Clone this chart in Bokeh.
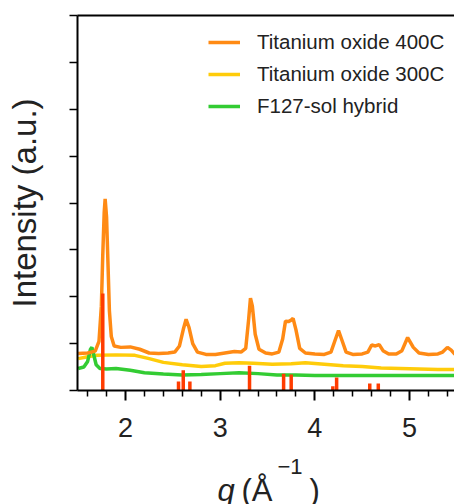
from bokeh.plotting import figure
from bokeh.layouts import column
from bokeh.models import (LinearAxis, FixedTicker, Legend, LegendItem,
                          Range1d, ColumnDataSource, CustomJSTickFormatter)
from bokeh.core.properties import value
from bokeh.embed import file_html
from bokeh.resources import INLINE

# ---------------- data ----------------
q_400 = [1.50, 1.60, 1.68, 1.72, 1.745, 1.76, 1.775, 1.785, 1.80, 1.815, 1.83, 1.85,
         1.88, 1.95, 2.05, 2.15, 2.25, 2.35, 2.45, 2.52, 2.57, 2.61, 2.64, 2.67,
         2.71, 2.76, 2.85, 2.95, 3.05, 3.15, 3.22, 3.27, 3.30, 3.32, 3.34, 3.37,
         3.41, 3.48, 3.55, 3.62, 3.66, 3.69, 3.72, 3.75, 3.77, 3.80, 3.84, 3.90,
         4.00, 4.10, 4.17, 4.21, 4.25, 4.29, 4.33, 4.40, 4.50, 4.56, 4.60, 4.64,
         4.68, 4.72, 4.78, 4.86, 4.92, 4.98, 5.04, 5.10, 5.20, 5.30, 5.35, 5.40,
         5.44, 5.48]
i_400 = [0.79, 0.80, 0.84, 1.05, 1.80, 2.90, 3.80, 4.09, 3.70, 2.70, 1.70, 1.15,
         0.95, 0.92, 0.93, 0.88, 0.80, 0.79, 0.80, 0.82, 0.95, 1.30, 1.52, 1.35,
         1.00, 0.82, 0.77, 0.77, 0.80, 0.83, 0.82, 0.90, 1.50, 1.97, 1.80, 1.20,
         0.88, 0.80, 0.78, 0.82, 1.10, 1.48, 1.47, 1.50, 1.54, 1.30, 0.90, 0.80,
         0.78, 0.77, 0.82, 1.05, 1.28, 1.05, 0.82, 0.77, 0.78, 0.82, 0.97, 0.95,
         0.98, 0.85, 0.78, 0.78, 0.85, 1.13, 0.92, 0.80, 0.77, 0.78, 0.82, 0.92,
         0.86, 0.77]

q_300 = [1.50, 1.60, 1.70, 1.90, 2.10, 2.25, 2.40, 2.60, 2.80, 2.95, 3.05, 3.20,
         3.35, 3.55, 3.75, 3.90, 4.10, 4.30, 4.50, 4.70, 4.90, 5.10, 5.30, 5.48]
i_300 = [0.68, 0.72, 0.75, 0.76, 0.75, 0.68, 0.60, 0.55, 0.51, 0.53, 0.58, 0.59,
         0.58, 0.56, 0.57, 0.59, 0.56, 0.53, 0.51, 0.48, 0.47, 0.46, 0.45, 0.45]

q_f127 = [1.50, 1.56, 1.60, 1.63, 1.645, 1.66, 1.69, 1.73, 1.80, 1.90, 2.05, 2.20,
          2.40, 2.60, 2.80, 3.00, 3.20, 3.40, 3.60, 3.80, 4.00, 4.50, 5.00, 5.48]
i_f127 = [0.47, 0.50, 0.62, 0.88, 0.92, 0.80, 0.55, 0.47, 0.46, 0.47, 0.43, 0.38,
          0.35, 0.33, 0.34, 0.36, 0.38, 0.36, 0.33, 0.33, 0.32, 0.32, 0.32, 0.32]

ref_q = [1.76, 2.56, 2.61, 2.68, 3.31, 3.67, 3.75, 4.19, 4.23, 4.58, 4.67]
ref_h = [2.07, 0.19, 0.43, 0.19, 0.53, 0.36, 0.34, 0.09, 0.28, 0.15, 0.15]

series_names = ["Titanium oxide 400C", "Titanium oxide 300C", "F127-sol hybrid"]
x_ticks = [2, 3, 4, 5]
x_minor = [1.6, 1.8, 2.2, 2.4, 2.6, 2.8, 3.2, 3.4, 3.6, 3.8, 4.2, 4.4, 4.6, 4.8, 5.2, 5.4]
y_ticks = [0, 1, 2, 3, 4, 5, 6, 7, 8]
y_title = "Intensity (a.u.)"
x_title_parts = ["q", "(Å", "−1", ")"]

# ---------------- main figure ----------------
FONT = "Liberation Sans"
TXT = "#222222"
H_MAIN = 458
LEFT = 77

p = figure(width=454, height=H_MAIN, output_backend="svg", toolbar_location=None,
           x_range=Range1d(1.493, 5.475), y_range=Range1d(0, 8),
           min_border_left=LEFT, min_border_right=0, min_border_top=15,
           min_border_bottom=H_MAIN - 390)
p.outline_line_color = None
p.grid.visible = False
p.border_fill_color = "white"

xa = p.xaxis[0]
xa.ticker = FixedTicker(ticks=x_ticks, minor_ticks=x_minor)
xa.axis_line_width = 2
xa.axis_line_color = "black"
xa.major_tick_line_width = 2
xa.minor_tick_line_width = 1.5
xa.major_tick_out = 10
xa.major_tick_in = 0
xa.minor_tick_out = 6
xa.minor_tick_in = 0
xa.major_label_text_font = FONT
xa.major_label_text_font_size = "27px"
xa.major_label_text_color = TXT
xa.major_label_standoff = 17

ya = p.yaxis[0]
ya.ticker = FixedTicker(ticks=y_ticks, minor_ticks=[])
ya.axis_line_width = 2
ya.axis_line_color = "black"
ya.major_tick_line_width = 1.5
ya.major_tick_out = 8
ya.major_tick_in = 0
ya.minor_tick_out = 0
ya.minor_tick_in = 0
ya.formatter = CustomJSTickFormatter(code="return ''")
ya.major_label_standoff = 0
ya.axis_label = y_title
ya.axis_label_text_font = FONT
ya.axis_label_text_font_size = "33px"
ya.axis_label_text_font_style = "normal"
ya.axis_label_text_color = TXT
ya.axis_label_standoff = 27

top = LinearAxis(ticker=FixedTicker(ticks=[], minor_ticks=[]),
                 axis_line_width=2, axis_line_color="black",
                 major_tick_out=0, major_tick_in=0, minor_tick_out=0, minor_tick_in=0)
p.add_layout(top, "above")

# curves
r300 = p.line(q_300, i_300, line_color="#ffcc0a", line_width=3.5)
rf = p.line(q_f127, i_f127, line_color="#33cc33", line_width=3.5)
r400 = p.line(q_400, i_400, line_color="#ff8a14", line_width=3.5)

ref = ColumnDataSource(dict(q=ref_q, h=ref_h, z=[0] * len(ref_q)))
p.segment(x0="q", y0="z", x1="q", y1="h", source=ref, line_color="#ff3c00",
          line_width=3.5, line_cap="butt")

legend = Legend(items=[LegendItem(label=series_names[0], renderers=[r400]),
                       LegendItem(label=series_names[1], renderers=[r300]),
                       LegendItem(label=series_names[2], renderers=[rf])],
                location=(131, 268), padding=0, spacing=0, margin=0,
                glyph_width=32, glyph_height=32, label_height=32,
                label_standoff=17, border_line_color=None,
                background_fill_alpha=0,
                label_text_font=FONT, label_text_font_size="20.5px",
                label_text_color=TXT)
p.add_layout(legend, "center")

# ---------------- x-axis title strip (page pixel coordinates) ----------------
b = figure(width=454, height=504 - H_MAIN, output_backend="svg", toolbar_location=None,
           x_range=Range1d(LEFT, 454), y_range=Range1d(504, H_MAIN),
           min_border_left=LEFT, min_border_right=0,
           min_border_top=0, min_border_bottom=0)
b.axis.visible = False
b.grid.visible = False
b.outline_line_color = None
b.border_fill_color = "white"

b.text(x=[217], y=[490], text=[x_title_parts[0]], text_font=value(FONT),
       text_font_style="italic", text_font_size="31px", text_color=TXT,
       text_baseline="alphabetic")
b.text(x=[241, 309], y=[490, 490], text=[x_title_parts[1], x_title_parts[3]],
       text_font=value(FONT), text_font_size="31px", text_color=TXT,
       text_baseline="alphabetic")
b.text(x=[277], y=[466], text=[x_title_parts[2]], text_font=value(FONT),
       text_font_size="22px", text_color=TXT, text_baseline="alphabetic")

layout = column(p, b, spacing=0)
open("out.html", "w").write(file_html(layout, INLINE))
